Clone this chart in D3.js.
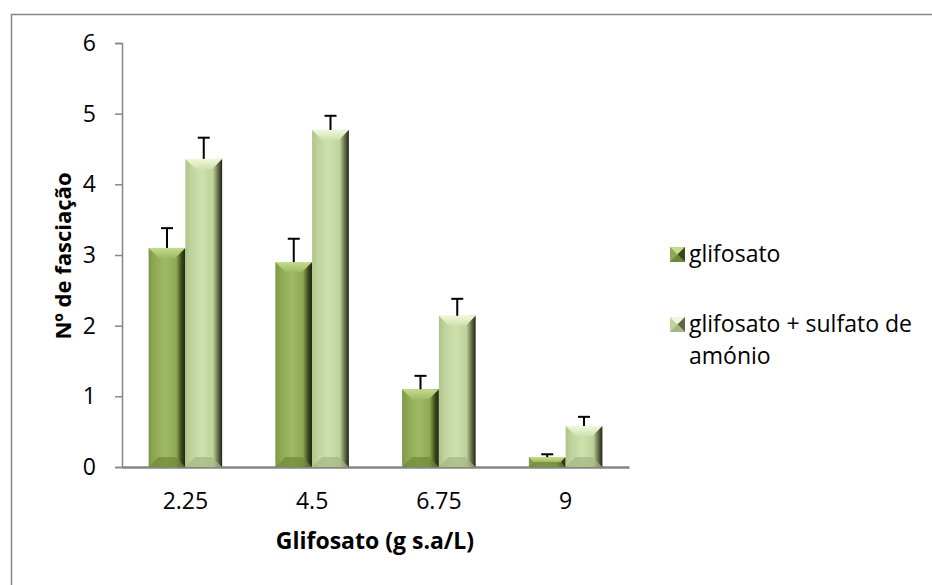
<!DOCTYPE html>
<html><head><meta charset="utf-8">
<script src="https://cdn.jsdelivr.net/npm/d3@7"></script>
<style>body{margin:0;background:#fff}svg{display:block}</style>
</head><body>
<script>
const categories = ["2.25","4.5","6.75","9"];
const seriesNames = ["glifosato","glifosato + sulfato de amónio"];
const glifosato = [3.10, 2.90, 1.10, 0.14];
const glifosatoErr = [0.28, 0.33, 0.19, 0.04];
const sulfato = [4.36, 4.77, 2.14, 0.58];
const sulfatoErr = [0.30, 0.20, 0.24, 0.13];
const yTicks = [0,1,2,3,4,5,6];

const W=932,H=585;
const svg=d3.select("body").append("svg").attr("width",W).attr("height",H);
const font="'Open Sans', sans-serif";

svg.append("rect").attr("x",11.5).attr("y",14.5).attr("width",1000).attr("height",1000)
  .attr("fill","#fff").attr("stroke","#868686").attr("stroke-width",1.5);

const x0=d3.scaleBand().domain(categories).range([122,629]).paddingInner(0.42).paddingOuter(0.21);
const x1=d3.scaleBand().domain([0,1]).range([0,x0.bandwidth()]);
const y=d3.scaleLinear().domain([0,6]).range([467,43]);

const defs=svg.append("defs");
const palettes=[
  {edge:"#3a471b",mid:"#8ea853",hi:"#9fba64",top:"#c4dc8c",bot:"#6d8838",side:"#7d9846"},
  {edge:"#5c6845",mid:"#bfd39a",hi:"#cfe0af",top:"#f0f8dc",bot:"#a3b783",side:"#aec38a"}
];
palettes.forEach((p,i)=>{
  const g=defs.append("linearGradient").attr("id","hg"+i).attr("x1",0).attr("x2",1).attr("y1",0).attr("y2",0);
  [[0,p.side],[0.15,p.mid],[0.45,p.hi],[0.75,p.mid],[0.9,p.edge],[1,"#1f2510"]].forEach(s=>g.append("stop").attr("offset",s[0]).attr("stop-color",s[1]));
  const t=defs.append("linearGradient").attr("id","tg"+i).attr("x1",0).attr("x2",0).attr("y1",0).attr("y2",1);
  t.append("stop").attr("offset",0).attr("stop-color",p.top);
  t.append("stop").attr("offset",1).attr("stop-color",p.hi);
});

// axes
const ya=svg.append("g").attr("transform","translate(122,0)")
  .call(d3.axisLeft(y).tickValues(yTicks).tickFormat(d3.format("d")).tickSize(7).tickPadding(19));
ya.select(".domain").attr("stroke","#868686").attr("stroke-width",1.5);
ya.selectAll(".tick line").attr("stroke","#868686").attr("stroke-width",1.5);
ya.selectAll("text").attr("font-family",font).attr("font-size",23).attr("fill","#000");

const xa=svg.append("g").attr("transform","translate(0,467)")
  .call(d3.axisBottom(x0).tickSize(0).tickPadding(26));
xa.select(".domain").attr("stroke","#868686").attr("stroke-width",2.5);
xa.selectAll("text").attr("font-family",font).attr("font-size",23).attr("fill","#000");

function drawBar(g,xL,w,val,i){
  const yt=y(val), yb=y(0), h=yb-yt;
  const p=palettes[i];
  const b=Math.min(w/2, 10, h/2);
  g.append("rect").attr("x",xL).attr("y",yt).attr("width",w).attr("height",h).attr("fill",`url(#hg${i})`);
  g.append("polygon").attr("points",[[xL,yt],[xL+w,yt],[xL+w-b,yt+b],[xL+b,yt+b]].join(" ")).attr("fill",`url(#tg${i})`);
  g.append("polygon").attr("points",[[xL,yb],[xL+w,yb],[xL+w-b,yb-b],[xL+b,yb-b]].join(" ")).attr("fill",p.bot).attr("opacity",0.7);
}

const series=[[glifosato,glifosatoErr],[sulfato,sulfatoErr]];
const bars=svg.append("g");
const errs=svg.append("g");
categories.forEach((c,ci)=>{
  series.forEach((s,si)=>{
    const xL=x0(c)+x1(si), w=x1.bandwidth();
    drawBar(bars,xL,w,s[0][ci],si);
    const cx=xL+w/2, top=y(s[0][ci]+s[1][ci]);
    errs.append("line").attr("x1",cx).attr("x2",cx).attr("y1",y(s[0][ci])).attr("y2",top).attr("stroke","#000").attr("stroke-width",2);
    errs.append("line").attr("x1",cx-6).attr("x2",cx+6).attr("y1",top).attr("y2",top).attr("stroke","#000").attr("stroke-width",2);
  });
});

// titles
svg.append("text").attr("x",375).attr("y",549).attr("text-anchor","middle")
  .attr("font-family",font).attr("font-weight","bold").attr("font-size",23).text("Glifosato (g s.a/L)");
svg.append("text").attr("transform","translate(71,256) rotate(-90)").attr("text-anchor","middle")
  .attr("font-family",font).attr("font-weight","bold").attr("font-size",22).text("Nº  de fasciação");

// legend
const leg=svg.append("g");
const legLines=[["glifosato"],["glifosato + sulfato de","amónio"]];
const legBase=[262,332];
legLines.forEach((lines,i)=>{
  const yy=legBase[i];
  const sx=670, s=15, sy=yy-s;
  const p=palettes[i];
  const g=leg.append("g");
  g.append("rect").attr("x",sx).attr("y",sy).attr("width",s).attr("height",s).attr("fill",p.mid);
  g.append("polygon").attr("points",[[sx,sy],[sx+s,sy],[sx+s/2,sy+s/2]].join(" ")).attr("fill",p.top);
  g.append("polygon").attr("points",[[sx+s,sy],[sx+s,sy+s],[sx+s/2,sy+s/2]].join(" ")).attr("fill",p.edge);
  g.append("polygon").attr("points",[[sx,sy+s],[sx+s,sy+s],[sx+s/2,sy+s/2]].join(" ")).attr("fill",p.bot);
  const t=leg.append("text").attr("x",689).attr("y",yy).attr("font-family",font).attr("font-size",23);
  lines.forEach((l,li)=>t.append("tspan").attr("x",689).attr("dy",li?32:0).text(l));
});
</script>
</body></html>
